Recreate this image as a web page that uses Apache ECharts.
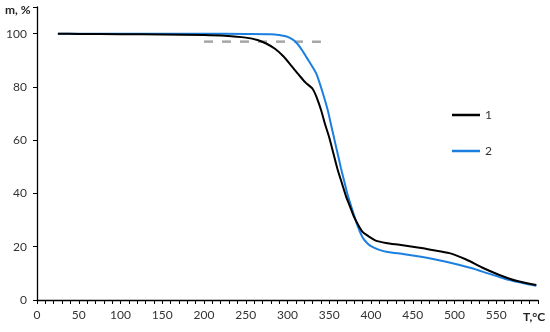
<!DOCTYPE html>
<html>
<head>
<meta charset="utf-8">
<script src="https://cdn.jsdelivr.net/npm/echarts@6/dist/echarts.min.js"></script>
<style>html,body{margin:0;padding:0;background:#fff;}#c{width:550px;height:332px;}</style>
</head>
<body>
<div id="c"></div>
<script>
// Sample 1 (black)
var t1 = [25, 50, 100, 150, 200, 225, 250, 265, 275, 285, 295, 305, 315, 322, 330, 335, 340, 345, 350, 355, 360, 365, 370, 375, 380, 386, 390, 398, 405, 418, 434, 458, 473, 494, 514, 533, 553, 574, 598];
var m1 = [100, 99.9, 99.8, 99.7, 99.5, 99.2, 98.5, 97.5, 96.2, 94.3, 91.5, 87.8, 84, 81.5, 79.3, 76, 71.5, 66, 61, 55, 49, 44, 39, 35, 31, 27.4, 25.5, 23.7, 22.4, 21.4, 20.7, 19.6, 18.8, 17.6, 15.2, 12.2, 9.5, 7.2, 5.6];
// Sample 2 (blue)
var t2 = [25, 100, 200, 250, 280, 290, 298, 305, 311, 317, 323, 330, 335, 342, 348, 352, 356, 360, 364, 368, 372, 376, 380, 385, 390, 395, 400, 410, 420, 440, 460, 480, 500, 520, 540, 560, 580, 598];
var m2 = [100, 100, 100, 99.9, 99.8, 99.5, 99, 98, 96.5, 94, 91, 87.5, 84.6, 78, 71.5, 66, 60.5, 55, 49.5, 44.5, 39.5, 35.5, 31.5, 27, 23.5, 21.5, 20.2, 18.8, 18, 17.2, 16.2, 15, 13.6, 12, 10, 8, 6.5, 5.3];
// Dashed reference line
var tRef = [200, 340];
var mRef = [97, 97];
var seriesNames = ['1', '2'];
var xTicks = [0, 50, 100, 150, 200, 250, 300, 350, 400, 450, 500, 550];
var yTicks = [0, 20, 40, 60, 80, 100];

function pairs(xs, ys) { return xs.map(function (x, i) { return [x, ys[i]]; }); }

var font = 'Lato, "Liberation Sans", sans-serif';
var chart = echarts.init(document.getElementById('c'));
chart.setOption({
  animation: false,
  backgroundColor: '#fff',
  grid: { left: 37, right: 12, top: 7, bottom: 32, containLabel: false },
  xAxis: {
    type: 'value', min: 0, max: 600, interval: 50,
    axisLine: { show: true, lineStyle: { color: '#000', width: 1.3 } },
    axisTick: { show: true, length: 4, lineStyle: { color: '#000', width: 1 } },
    minorTick: { show: true, splitNumber: 5, length: 4, lineStyle: { color: '#000', width: 1 } },
    splitLine: { show: false },
    axisLabel: {
      margin: 9, color: '#333', fontSize: 12, fontFamily: font,
      formatter: function (v) { return xTicks.indexOf(v) >= 0 ? String(v) : ''; }
    }
  },
  yAxis: {
    type: 'value', min: 0, max: 110, interval: 20,
    axisLine: { show: true, lineStyle: { color: '#000', width: 1.3 } },
    axisTick: { show: true, length: 4, lineStyle: { color: '#000', width: 1 } },
    splitLine: { show: false },
    axisLabel: {
      margin: 10, color: '#333', fontSize: 12, fontFamily: font,
      formatter: function (v) { return yTicks.indexOf(v) >= 0 ? String(v) : ''; }
    }
  },
  legend: {
    orient: 'vertical', left: 452, top: 109, padding: 0,
    itemWidth: 28, itemHeight: 2.5, itemGap: 24,
    icon: 'rect',
    textStyle: { color: '#333', fontSize: 12, fontFamily: font },
    data: seriesNames
  },
  graphic: [
    { type: 'text', left: 5, top: 4, style: { text: 'm, %', fontSize: 12, fontWeight: 'bold', fill: '#222', fontFamily: font } },
    { type: 'text', left: 523, top: 311, style: { text: 'T,°C', fontSize: 12, fontWeight: 'bold', fill: '#222', fontFamily: font } }
  ],
  series: [
    {
      name: 'ref', type: 'line', data: pairs(tRef, mRef), symbol: 'none', silent: true,
      lineStyle: { color: '#a6a6a6', width: 2.5, type: [9, 9] }, z: 1
    },
    {
      name: seriesNames[0], type: 'line', data: pairs(t1, m1), symbol: 'none', smooth: 0.25,
      lineStyle: { color: '#000', width: 2 }, itemStyle: { color: '#000' }, z: 3
    },
    {
      name: seriesNames[1], type: 'line', data: pairs(t2, m2), symbol: 'none', smooth: 0.25,
      lineStyle: { color: '#1b7fe0', width: 2 }, itemStyle: { color: '#1b7fe0' }, z: 2
    }
  ]
});
</script>
</body>
</html>
